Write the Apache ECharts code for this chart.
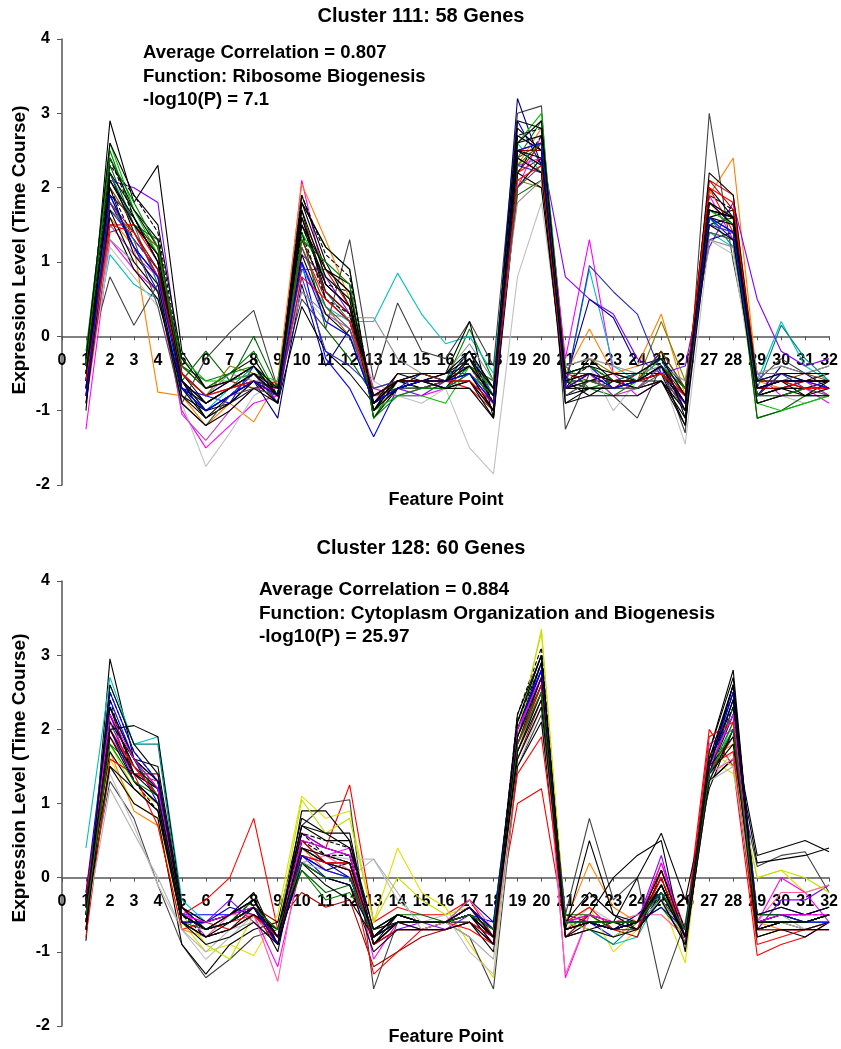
<!DOCTYPE html>
<html>
<head>
<meta charset="utf-8">
<script src="https://cdn.jsdelivr.net/npm/echarts@6/dist/echarts.min.js"></script>
<style>
html, body { margin: 0; padding: 0; background: #fff; }
#main { width: 841px; height: 1049px; }
</style>
</head>
<body>
<div id="main"></div>
<script>
// feature points on the x axis (time course)
var featurePoints = [1,2,3,4,5,6,7,8,9,10,11,12,13,14,15,16,17,18,19,20,21,22,23,24,25,26,27,28,29,30,31,32];
var yTicks = [-2, -1, 0, 1, 2, 3, 4];

// Cluster 111: 58 genes (profiles, a subset of the genes)
var cluster111 = [
  [-0.5,2.2,1.4,0.8,-0.5,-0.9,-0.7,-0.5,-0.8,1.6,0.6,0.3,-0.9,-0.6,-0.6,-0.7,-0.3,-0.8,2.5,2.6,-0.6,-0.5,-0.6,-0.7,-0.4,-0.9,1.8,1.5,-0.7,-0.6,-0.7,-0.6],
  [-0.8,1.5,1.5,1.0,-0.6,-1.0,-0.8,-0.6,-0.7,1.2,0.5,0.2,-0.8,-0.7,-0.6,-0.5,-0.5,-0.9,2.2,2.4,-0.7,-0.6,-0.5,-0.6,-0.5,-0.8,2.0,1.4,-0.8,-0.7,-0.6,-0.7],
  [-0.3,1.8,1.2,0.6,-0.7,-0.8,-0.9,-0.4,-0.9,1.0,-0.3,-0.7,-1.35,-0.7,-0.5,-0.6,-0.2,-0.7,2.9,2.3,-0.5,-0.4,-0.7,-0.5,-0.3,-1.0,1.6,1.3,-0.6,-0.5,-0.6,-0.5],
  [-0.2,2.5,1.6,1.1,-0.4,-0.6,-0.5,-0.2,-0.8,1.8,1.2,0.9,-1.1,-0.6,-0.7,-0.6,0.1,-0.6,2.4,2.9,-0.4,-0.7,-0.8,-0.6,-0.2,-0.7,1.5,1.6,-1.1,-1.0,-0.9,-0.8],
  [-1.25,1.3,0.9,0.6,-1.0,-1.5,-1.2,-0.9,-0.8,2.1,0.7,0.4,-0.7,-0.8,-0.8,-0.7,-0.6,-1.0,2.0,2.7,-0.3,1.3,-0.5,-0.8,-0.6,-0.9,1.9,1.3,-0.5,-0.8,-0.7,-0.9],
  [-0.6,1.1,0.7,0.5,-0.6,-1.0,-0.7,-0.6,-0.7,0.9,0.4,0.2,0.2,0.85,0.3,-0.1,0.0,-0.5,2.6,2.2,-0.7,0.9,-0.4,-0.6,-0.3,-0.8,1.4,1.2,-0.6,0.2,-0.4,-0.6],
  [-0.5,1.6,1.2,-0.75,-0.8,-1.2,-0.9,-1.15,-0.6,2.05,1.3,0.5,-1.0,-0.6,-0.7,-0.6,-0.4,-0.7,2.3,2.8,-0.5,0.1,-0.5,-0.4,0.3,-0.8,1.9,2.4,-0.6,-0.7,-0.6,-0.5],
  [-0.4,0.8,0.15,0.7,-0.9,-0.3,0.05,0.35,-0.7,0.5,0.1,1.3,-0.6,0.45,-0.2,-0.3,0.2,-0.4,3.0,3.1,-1.25,-0.5,-0.8,-1.1,-0.4,-1.3,3.0,1.0,-0.6,-0.3,-0.5,-0.4],
  [-0.7,2.1,2.0,1.8,-0.5,-0.8,-0.6,-0.5,-0.9,1.1,0.8,0.3,-0.9,-0.7,-0.8,-0.6,-0.3,-0.8,2.7,2.5,0.8,0.5,0.3,-0.3,-0.5,-0.4,1.2,1.8,0.5,-0.2,-0.4,-0.3],
  [-0.9,1.2,0.8,0.4,-0.9,-1.75,-1.3,-0.8,-0.6,0.6,0.2,0.0,-0.6,-0.8,-0.9,-0.7,-1.5,-1.85,0.8,1.8,-0.6,-0.4,-1.0,-0.6,-0.5,-1.45,1.3,1.1,-0.9,-0.8,-0.9,-0.8],
  [-0.6,2.9,1.8,2.3,-0.2,-0.7,-0.5,-0.3,-0.8,1.9,1.0,0.4,-1.0,-0.5,-0.5,-0.5,0.2,-1.1,2.0,2.4,-0.7,-0.3,-0.6,-0.6,-0.2,-1.1,1.6,1.7,-0.8,-0.5,-0.6,-0.6],
  [-0.3,2.3,1.5,1.3,-0.6,-0.2,-0.6,0.0,-0.7,1.4,0.1,-0.3,-0.8,-0.7,-0.6,-0.7,-0.4,-0.6,1.9,2.1,-0.6,-0.7,-0.6,-0.7,-0.4,-0.7,1.7,1.5,-1.1,-1.0,-0.8,-0.8],
  [-0.7,2.0,1.3,0.9,-0.7,-1.0,-0.8,-0.5,-0.8,1.5,0.7,0.6,-1.0,-0.6,-0.7,-0.7,-0.6,-0.9,2.4,2.2,-0.8,-0.6,-0.6,-0.6,-0.5,-1.0,1.5,1.6,-0.7,-0.7,-0.7,-0.7],
  [-0.9,1.4,1.5,1.1,-0.4,-0.7,-0.6,-0.7,-0.6,0.9,0.9,0.4,-0.9,-0.5,-0.5,-0.6,-0.7,-1.0,2.2,2.6,-0.5,-0.6,-0.7,-0.5,-0.5,-0.8,2.1,1.9,-0.6,-0.6,-0.6,-0.8],
  [-0.5,1.9,1.6,1.0,-0.6,-1.0,-0.8,-0.6,-1.1,0.7,-0.4,0.1,-0.8,-0.6,-0.6,-0.5,-0.4,-0.8,3.2,2.3,-0.6,0.5,0.25,-0.4,-0.3,-0.7,1.3,1.4,-0.8,-0.4,-0.5,-0.7],
  [-1.0,2.4,1.7,1.2,-0.8,-1.1,-0.9,-0.6,-0.7,1.7,0.5,0.2,-0.8,-0.6,-0.5,-0.6,-0.5,-1.0,2.6,2.7,-0.6,-0.8,-0.6,-0.5,-0.5,-0.9,1.8,1.5,-0.7,-0.6,-0.8,-0.6],
  [-0.5,1.7,1.4,0.9,-0.5,-0.8,-0.4,-0.5,-0.9,1.2,0.4,0.0,-0.7,-0.6,-0.6,-0.6,-0.3,-0.7,2.1,2.0,-0.4,-0.3,-0.5,-0.6,0.2,-0.6,1.4,1.3,-0.5,-0.5,-0.5,-0.5],
  [-0.4,2.2,1.5,0.7,-0.6,-0.9,-0.7,-0.4,-0.8,1.3,0.6,0.2,-0.9,-0.6,-0.7,-0.6,-0.2,-0.8,2.5,2.3,-0.5,-0.4,-0.6,-0.5,-0.3,-0.8,1.6,1.2,-0.7,0.15,-0.3,-0.6],
  [-0.6,1.9,1.2,0.8,-0.6,-1.1,-0.9,-0.7,-0.7,1.8,0.9,0.7,-1.1,-0.7,-0.6,-0.6,-0.6,-1.1,2.8,2.5,-0.9,-0.7,-0.7,-0.6,-0.5,-1.2,2.0,1.6,-0.9,-0.8,-0.7,-0.7],
  [-0.8,1.5,1.1,0.8,-1.05,-1.4,-1.0,-0.7,-0.7,1.0,0.3,0.1,-0.8,-0.8,-0.7,-0.6,-0.5,-0.9,2.3,2.4,-0.7,-0.5,-0.8,-0.7,-0.4,-0.9,1.5,1.4,-0.8,-0.7,-0.6,-0.8],
  [-0.3,2.6,1.7,1.1,-0.3,-0.6,-0.6,-0.5,-0.6,1.4,0.8,0.5,-1.0,-0.8,-0.8,-0.9,-0.4,-0.7,2.6,3.0,-0.6,-0.6,-0.7,-0.6,-0.3,-0.8,1.7,1.5,-0.9,-1.0,-0.9,-0.8],
  [-0.5,1.6,0.9,0.5,-0.7,-0.9,-0.7,-0.6,-0.9,0.4,-0.2,-0.5,-0.9,-0.5,-0.6,-0.5,-0.3,-0.7,2.2,2.0,-0.7,-0.6,-0.5,-0.6,-0.5,-0.8,1.6,1.4,-0.6,-0.6,-0.6,-0.6],
  [-0.7,2.0,1.5,1.2,-0.5,-0.8,-0.7,-0.5,-0.7,1.6,0.9,0.6,-0.8,-0.6,-0.5,-0.6,-0.4,-0.8,2.4,2.6,-0.5,-0.5,-0.6,-0.6,-0.2,-0.7,1.8,1.6,-0.6,-0.6,-0.5,-0.6],
  [-0.4,2.3,1.9,1.4,-0.4,-0.7,-0.6,-0.4,-0.8,1.9,1.1,0.8,-0.9,-0.6,-0.6,-0.6,-0.2,-0.9,2.7,2.8,-0.6,-0.4,-0.6,-0.7,-0.6,-1.0,1.9,1.7,-0.7,-0.6,-0.6,-0.5],
  [-0.6,1.7,1.3,0.9,-0.7,-1.0,-0.8,-0.5,-0.9,0.8,-0.2,-0.4,-0.7,-0.6,-0.6,-0.7,-0.5,-0.9,2.3,2.2,-0.7,0.95,0.6,0.3,-0.5,-0.9,1.5,1.4,-0.8,-0.5,-0.7,-0.7],
  [-0.7,1.8,1.4,0.9,-0.6,-0.9,-0.7,-0.5,-0.8,1.3,0.6,0.3,-0.9,-0.7,-0.7,-0.6,-0.6,-1.0,2.5,2.5,-0.6,-0.5,-0.7,-0.6,-0.4,-0.8,2.1,1.7,-0.7,-0.7,-0.6,-0.6],
  [-0.5,1.3,1.0,0.6,-0.5,-0.8,-0.5,-0.6,-0.6,0.6,0.3,0.25,0.25,-0.3,-0.5,-0.5,-0.1,-0.6,1.8,2.1,-0.4,-0.3,-0.4,-0.5,-0.4,-0.6,1.3,1.2,-0.5,-0.4,-0.5,-0.4],
  [-0.8,2.1,1.6,1.0,-0.7,-1.1,-0.8,-0.6,-0.8,1.5,0.7,0.4,-1.0,-0.7,-0.7,-0.7,-0.6,-1.0,2.5,2.3,-0.8,-0.7,-0.7,-0.7,-0.6,-1.0,1.7,1.6,-0.8,-0.7,-0.7,-0.7],
  [-0.6,2.0,1.1,0.7,-0.8,-1.0,-0.9,-0.6,-0.9,1.7,0.8,0.5,-1.0,-0.7,-0.6,-0.6,-0.5,-1.0,2.6,2.9,-0.7,-0.7,-0.7,-0.6,-0.6,-1.1,1.6,1.5,-0.8,-0.7,-0.8,-0.7],
  [-0.5,2.4,1.6,1.0,-0.6,-0.9,-0.7,-0.5,-0.7,1.4,0.5,0.3,-0.9,-0.6,-0.7,-0.6,-0.4,-0.9,2.2,2.7,-0.6,-0.6,-0.6,-0.6,-0.5,-0.9,1.7,1.6,-0.7,-0.6,-0.6,-0.6],
  [-0.4,1.8,1.3,0.4,-0.9,-1.2,-0.8,-0.7,-0.8,1.2,0.4,0.1,-0.9,-0.7,-0.7,-0.6,-0.4,-0.9,2.0,2.3,-0.8,-0.6,-0.7,-0.7,-0.5,-1.0,1.4,1.3,-0.8,-0.8,-0.7,-0.8],
  [-0.7,2.2,1.7,1.3,-0.5,-0.8,-0.6,-0.4,-0.8,1.8,1.2,0.9,-1.0,-0.6,-0.6,-0.6,-0.3,-0.9,2.7,2.5,-0.7,-0.5,-0.6,-0.6,-0.4,-1.0,2.2,1.9,-0.7,-0.6,-0.6,-0.6],
  [-0.4,2.4,1.8,1.2,-0.4,-0.7,-0.5,-0.4,-0.7,1.3,1.0,0.7,-1.1,-0.8,-0.7,-0.7,-0.5,-0.8,2.3,2.6,-0.5,-0.4,-0.6,-0.6,-0.4,-0.7,1.6,1.4,-0.8,-0.8,-0.7,-0.7],
  [-0.9,1.7,1.0,0.6,-0.9,-1.2,-1.0,-0.7,-0.9,1.1,0.3,0.0,-0.9,-0.7,-0.6,-0.7,-0.7,-1.1,2.4,2.2,-0.9,-0.8,-0.8,-0.8,-0.6,-1.2,1.5,1.3,-0.9,-0.8,-0.8,-0.8],
  [-0.6,1.5,1.4,0.8,-0.5,-0.8,-0.7,-0.6,-0.8,0.8,0.5,0.2,-0.8,-0.6,-0.6,-0.6,-0.6,-0.9,2.1,2.3,-0.7,-0.5,-0.6,-0.6,-0.5,-0.8,2.0,1.8,-0.7,-0.6,-0.7,-0.7],
  [-0.3,2.6,1.9,1.5,-0.3,-0.7,-0.6,-0.4,-0.7,1.6,0.7,0.4,-0.8,-0.6,-0.5,-0.5,-0.2,-0.7,2.9,2.8,-0.5,-0.4,-0.5,-0.5,-0.3,-0.8,1.7,1.6,-0.6,-0.5,-0.5,-0.5],
  [-0.8,1.9,1.2,0.8,-0.7,-1.0,-0.8,-0.6,-0.8,1.0,0.2,0.0,-0.9,-0.7,-0.6,-0.6,-0.5,-0.9,2.5,2.6,-0.7,-0.5,-0.7,-0.6,-0.4,-0.9,1.6,1.4,-0.7,-0.6,-0.6,-0.7],
  [-0.5,2.1,1.5,1.1,-0.6,-0.9,-0.7,-0.5,-0.8,1.5,0.9,0.6,-0.9,-0.6,-0.6,-0.6,-0.4,-0.8,2.5,2.4,-0.6,-0.5,-0.6,-0.6,-0.4,-0.9,1.8,1.6,-0.7,-0.6,-0.6,-0.6]
];

// Cluster 128: 60 genes (profiles, a subset of the genes)
var cluster128 = [
  [-0.3,2.2,1.5,1.1,-0.4,-0.7,-0.6,-0.4,-0.9,0.4,0.2,0.1,-0.8,-0.5,-0.6,-0.6,-0.4,-0.7,1.8,2.7,-0.7,-0.6,-0.7,-0.6,-0.1,-0.8,1.4,2.2,-0.6,-0.5,-0.6,-0.5],
  [-0.6,1.9,1.4,1.3,-0.5,-0.3,0.0,0.8,-0.7,0.6,0.4,1.25,-0.6,-0.4,-0.5,-0.5,-0.3,-0.8,1.0,1.2,-0.7,-0.5,-0.6,-0.7,0.2,-0.7,2.0,1.5,-1.05,-0.9,-0.8,-0.6],
  [-0.2,2.4,1.6,1.0,-0.5,-0.5,-0.5,-0.3,-0.8,0.3,0.0,-0.1,-0.7,-0.5,-0.6,-0.6,-0.5,-0.6,1.9,2.9,-0.6,-0.6,-0.8,-0.6,-0.2,-0.8,1.5,2.6,-0.5,-0.4,-0.5,-0.4],
  [-0.5,1.6,1.0,0.8,-0.6,-1.0,-0.9,-1.05,-0.5,1.1,0.8,0.9,-0.6,0.4,-0.2,-0.4,-0.9,-1.35,2.0,3.3,-0.6,-0.4,-1.0,-0.7,-0.3,-1.15,1.6,1.4,0.0,0.1,-0.2,-0.1],
  [-0.85,2.95,1.6,1.3,-0.6,-0.8,-0.7,-0.4,-1.0,0.5,0.2,0.2,-0.9,-0.6,-0.6,-0.6,-0.6,-0.8,2.1,3.0,-0.8,-0.6,-0.6,-0.6,0.0,-0.9,1.7,2.8,-0.7,-0.6,-0.7,-0.6],
  [0.4,2.7,1.8,1.9,-0.3,-0.6,-0.5,-0.4,-0.8,0.3,0.1,0.0,-0.8,-0.5,-0.6,-0.6,-0.4,-0.7,1.7,2.5,-0.6,-0.7,-0.9,-0.8,-0.2,-0.7,1.3,2.1,-0.5,-0.5,-0.6,-0.5],
  [-0.7,2.2,1.3,1.0,-0.4,-0.8,-0.7,-0.5,-1.2,0.2,0.3,0.4,-1.1,-0.6,-0.7,-0.6,-0.5,-0.9,1.9,2.8,-1.35,-0.5,-0.6,-0.6,-0.3,-0.8,1.8,2.0,-0.6,0.0,-0.2,-0.6],
  [-0.4,1.3,0.8,-0.1,-0.9,-1.35,-1.1,-0.8,-0.7,0.7,1.0,1.05,-1.5,-0.6,-0.6,-0.6,-0.8,-1.5,1.5,2.2,-0.5,0.8,-0.3,0.0,-1.5,-0.6,1.3,1.6,0.15,0.3,0.35,-0.2],
  [-0.3,1.8,1.5,1.2,-0.5,-0.7,-0.6,-0.4,-0.7,0.1,-0.3,-0.2,-0.7,-0.5,-0.6,-0.6,-0.4,-0.7,1.8,2.6,-0.6,-0.6,-0.7,-0.6,-0.4,-0.8,1.4,2.1,-0.6,-0.5,-0.6,-0.5],
  [-0.5,1.4,0.7,-0.1,-0.7,-1.1,-0.8,-0.5,-0.8,0.2,0.3,0.25,0.25,-0.3,-0.6,-0.5,-1.0,-1.3,1.5,2.3,-0.7,-0.4,-0.6,-0.5,-0.2,-0.7,1.3,1.7,-0.7,-0.6,-0.7,-0.7],
  [-0.6,2.5,1.7,1.3,-0.5,-0.7,-0.6,-0.3,-0.9,0.5,0.3,0.2,-0.8,-0.5,-0.6,-0.6,-0.4,-0.8,2.2,3.1,-0.7,-0.6,-0.7,-0.6,0.0,-0.8,1.6,2.5,-0.6,-0.6,-0.6,-0.5],
  [-0.7,2.1,1.4,1.2,-0.5,-0.6,-0.3,-0.6,-0.9,0.6,0.4,0.3,-0.9,-0.7,-0.6,-0.7,-0.5,-0.9,2.0,2.7,-0.7,-0.6,-0.7,-0.6,0.3,-0.9,1.4,2.3,-0.7,-0.3,-0.3,-0.1],
  [-0.4,1.7,0.9,0.7,-0.7,-0.8,-0.7,-0.5,-0.8,0.4,0.1,0.0,-0.7,-0.6,-0.6,-0.6,-0.5,-0.8,1.7,2.6,-0.6,0.2,-0.4,-0.6,-0.1,-0.8,1.6,1.8,-0.6,-0.7,-0.7,-0.6],
  [-0.5,2.0,2.05,1.9,-0.4,-0.6,-0.5,-0.2,-0.9,0.9,0.9,0.5,-0.9,-0.7,-0.7,-0.6,-0.5,-0.9,1.8,2.5,-0.7,-0.6,-0.6,0.0,0.6,-0.3,1.2,2.0,0.3,0.4,0.5,0.35],
  [-0.3,2.3,1.6,1.2,-0.6,-0.6,-0.5,-0.4,-0.8,0.2,0.0,-0.1,-0.8,-0.5,-0.6,-0.6,-0.3,-0.6,2.0,2.8,-0.5,-0.6,-0.7,-0.5,-0.2,-0.7,1.5,2.6,-0.5,-0.5,-0.5,-0.4],
  [-0.2,2.0,1.4,1.4,-0.4,-0.7,-0.6,-0.4,-0.6,-0.2,-0.4,-0.3,-1.2,-1.0,-0.8,-0.7,-0.6,-0.9,1.6,2.4,-0.8,-0.5,-0.7,-0.8,0.1,-0.7,1.4,1.9,-0.7,-0.6,-0.6,-0.5],
  [-0.5,2.6,1.8,1.8,-0.5,-0.7,-0.6,-0.4,-0.8,0.4,0.2,0.2,-0.8,-0.6,-0.6,-0.6,-0.5,-0.7,2.1,2.9,-0.6,-0.7,-0.9,-0.6,-0.1,-0.8,1.5,2.4,-0.6,-0.6,-0.6,-0.6],
  [-0.6,1.5,1.0,0.8,-0.9,-1.3,-0.9,-0.7,-0.6,0.8,0.6,0.4,-0.7,-0.6,-0.7,-0.7,-0.6,-1.0,1.5,2.1,-0.8,-0.7,-0.6,-0.7,-0.3,-0.9,1.3,1.6,-0.8,-0.7,-0.8,-0.6],
  [-0.4,1.8,1.2,1.0,-0.5,-0.9,-1.1,-0.5,-0.7,1.05,0.6,0.8,-0.6,0.0,-0.3,-0.5,-0.4,-0.8,1.9,3.35,-0.6,-0.7,-0.8,-0.6,-0.1,-0.9,1.7,1.5,0.0,0.1,0.0,-0.2],
  [-0.5,2.2,1.5,1.2,-0.5,-0.7,-0.6,-0.4,-0.9,0.3,0.1,0.2,-0.9,-0.5,-0.6,-0.6,-0.5,-0.7,2.0,2.8,-0.7,-0.6,-0.7,-0.6,-0.1,-0.8,1.5,2.6,-0.7,-0.6,-0.6,-0.5],
  [-0.3,1.9,1.5,1.1,-0.6,-0.8,-0.5,-0.5,-1.4,0.4,0.3,0.1,-0.8,-0.6,-0.6,-0.6,-0.3,-0.7,1.8,2.5,-1.3,-0.5,-0.6,-0.5,-0.5,-0.8,1.4,1.6,-0.6,-0.2,-0.2,-0.1],
  [-0.6,2.4,1.3,0.9,-0.5,-0.8,-0.7,-0.5,-0.7,0.6,0.3,0.3,-0.8,-0.5,-0.6,-0.6,-0.4,-0.8,2.1,2.9,-0.7,-0.6,-0.6,-0.7,-0.2,-0.8,1.6,2.2,-0.6,-0.6,-0.6,-0.5],
  [-0.4,2.1,1.6,1.1,-0.6,-0.7,-0.6,-0.3,-0.8,0.1,-0.2,-0.1,-0.7,-0.5,-0.5,-0.6,-0.4,-0.7,1.9,2.6,-0.5,-0.5,-0.7,-0.6,-0.3,-0.7,1.4,2.3,-0.5,-0.5,-0.6,-0.5],
  [-0.3,1.7,1.2,0.9,-0.6,-0.8,-0.6,-0.4,-0.9,0.2,-0.1,-0.3,-0.8,-0.6,-0.6,-0.6,-0.5,-0.8,1.7,2.4,-0.6,-0.5,0.0,0.3,0.5,-1.0,1.5,1.9,0.2,0.25,0.3,0.4],
  [-0.8,1.6,1.4,0.7,-0.7,-0.6,-0.7,-0.5,-0.9,0.5,0.2,0.1,-1.3,-1.0,-0.7,-0.6,-0.7,-0.9,1.4,1.9,-0.6,-0.4,-0.7,-0.6,0.1,-0.8,1.5,1.7,-0.9,-0.8,-0.7,-0.6],
  [-0.6,1.2,0.6,0.0,-0.7,-1.0,-0.7,-0.6,-0.7,0.2,0.1,0.0,0.25,-0.2,-0.7,-0.6,-0.8,-1.1,1.6,2.3,-0.6,-0.5,-0.6,-0.6,-0.3,-0.8,1.3,1.5,-0.6,-0.5,-0.7,-0.6],
  [-0.7,2.3,1.6,1.5,-0.4,-0.7,-0.5,-0.3,-0.9,0.5,0.4,0.3,-0.9,-0.6,-0.6,-0.6,-0.5,-0.8,2.2,3.0,-0.7,0.5,-0.5,-0.7,-0.1,-0.8,1.7,2.7,-0.7,-0.7,-0.7,-0.6],
  [-0.5,2.0,1.3,1.0,-0.6,-0.6,-0.4,-0.5,-0.8,0.3,0.2,0.0,-0.8,-0.6,-0.6,-0.6,-0.4,-0.7,1.8,2.6,-0.6,-0.6,-0.7,-0.6,-0.4,-0.7,1.4,2.4,-0.6,-0.5,-0.6,-0.5],
  [-0.5,2.3,1.4,1.2,-0.5,-0.7,-0.6,-0.4,-0.9,0.4,0.2,0.1,-0.9,-0.6,-0.6,-0.6,-0.5,-0.8,2.0,2.9,-0.7,-0.6,-0.7,-0.6,-0.1,-0.8,1.5,2.5,-0.7,-0.6,-0.6,-0.5],
  [-0.4,2.1,1.6,1.3,-0.4,-0.6,-0.5,-0.3,-0.8,0.6,0.5,0.4,-0.8,-0.5,-0.6,-0.6,-0.4,-0.7,1.9,2.7,-0.6,-0.5,-0.6,-0.6,0.1,-0.7,1.6,2.3,-0.6,-0.5,-0.5,-0.5],
  [-0.6,2.0,1.5,1.1,-0.5,-0.7,-0.6,-0.5,-0.8,0.3,0.2,0.2,-0.9,-0.7,-0.7,-0.7,-0.6,-0.8,1.8,2.6,-0.7,-0.6,-0.7,-0.7,0.0,-0.8,1.9,2.1,-0.7,-0.7,-0.7,-0.7],
  [-0.3,1.5,1.2,0.9,-0.6,-0.8,-0.7,-0.5,-0.7,0.7,0.5,0.5,-0.7,-0.5,-0.6,-0.6,-0.5,-0.8,1.6,2.3,-0.6,-0.2,-0.5,-0.6,-0.2,-0.8,1.4,1.8,-0.5,-0.4,-0.5,-0.4],
  [-0.5,2.5,1.7,1.3,-0.5,-0.7,-0.6,-0.4,-0.9,0.3,0.1,0.0,-0.8,-0.6,-0.6,-0.6,-0.4,-0.7,2.0,2.8,-0.6,-0.6,-0.7,-0.6,-0.2,-0.7,1.5,2.5,-0.6,-0.6,-0.6,-0.6],
  [-0.7,1.9,1.3,1.0,-0.6,-0.9,-0.8,-0.6,-0.9,0.2,0.0,-0.1,-1.0,-0.7,-0.7,-0.7,-0.6,-0.9,1.7,2.5,-0.8,-0.7,-0.8,-0.7,-0.3,-0.9,1.3,2.0,-0.8,-0.7,-0.7,-0.7],
  [-0.4,2.2,1.6,1.2,-0.5,-0.6,-0.5,-0.4,-0.8,0.5,0.4,0.3,-0.8,-0.6,-0.6,-0.6,-0.4,-0.8,2.0,2.7,-0.6,-0.5,-0.6,-0.6,0.2,-0.8,1.5,2.2,-0.6,-0.5,-0.5,-0.5],
  [-0.6,2.6,1.8,1.4,-0.5,-0.7,-0.5,-0.3,-0.8,0.7,0.6,0.6,-0.9,-0.6,-0.6,-0.6,-0.5,-0.8,2.1,3.0,-0.7,-0.6,-0.6,-0.6,0.1,-0.8,1.6,2.6,-0.7,-0.6,-0.6,-0.5],
  [-0.5,1.8,1.3,1.1,-0.5,-0.7,-0.6,-0.4,-0.7,0.2,0.0,0.0,-0.8,-0.6,-0.6,-0.6,-0.5,-0.7,1.8,2.5,-0.6,-0.6,-0.6,-0.6,-0.2,-0.7,1.4,2.0,-0.6,-0.6,-0.6,-0.5],
  [-0.4,2.0,1.4,1.1,-0.5,-0.7,-0.6,-0.4,-0.8,0.4,0.3,0.2,-0.8,-0.6,-0.6,-0.6,-0.4,-0.8,1.9,2.7,-0.7,-0.6,-0.7,-0.6,-0.1,-0.8,1.5,2.4,-0.6,-0.6,-0.6,-0.5]
];

// line colours, one per gene profile (Excel-like palette, mostly black)
var colors111 = ['#000000','#ff0000','#0000ff','#008000','#ff00ff','#00bfbf','#ff8000','#404040','#8000ff','#c0c0c0',
  '#000000','#006400','#000000','#e00000','#000080','#000000','#808000','#008080','#000000','#c040c0',
  '#00c000','#000000','#804000','#000000','#3030c0','#a00000','#909090','#000000','#000000','#000000',
  '#505050','#000000','#008000','#000000','#ff0000','#000000','#0000ff','#000000'];
var colors128 = ['#000000','#ff0000','#0000ff','#e0e000','#000000','#00bfbf','#ff00ff','#404040','#008000','#c0c0c0',
  '#000000','#8000ff','#ff8000','#000000','#000080','#a00000','#008080','#000000','#c0e000','#000000',
  '#ff60a0','#000000','#006400','#000000','#ff0000','#b0b0b0','#000000','#0000c0','#000000','#000000',
  '#ff0000','#000000','#0000ff','#000000','#ff00ff','#000000','#008000','#000000'];
var dashed111 = [12, 23, 29];
var dashed128 = [10, 21, 29];

var chart = echarts.init(document.getElementById('main'));
var FONT = '"Liberation Sans", Arial, sans-serif';
var GRIDS = [
    { left: 62, top: 39, width: 768, height: 446 },
    { left: 62, top: 581, width: 768, height: 445 }
];

function makeSeries(rows, colors, dashed, idx) {
    return rows.map(function (row, i) {
        return {
            type: 'line',
            xAxisIndex: idx,
            yAxisIndex: idx,
            data: row.map(function (v, k) { return [featurePoints[k], v]; }),
            symbol: 'none',
            silent: true,
            lineStyle: {
                color: colors[i % colors.length],
                width: 1.1,
                type: dashed.indexOf(i) >= 0 ? 'dashed' : 'solid'
            }
        };
    });
}

// x axis sits on y = 0: shift it up from the grid bottom
function xAxisCfg(idx) {
    var yMin = yTicks[0], yMax = yTicks[yTicks.length - 1];
    var zeroUp = GRIDS[idx].height * (0 - yMin) / (yMax - yMin);
    return {
        type: 'value',
        gridIndex: idx,
        position: 'bottom',
        offset: -zeroUp,
        min: 0,
        max: 32,
        interval: 1,
        axisLine: { onZero: false, lineStyle: { color: '#555', width: 1.5 } },
        axisTick: { show: true, length: 4, lineStyle: { color: '#555' } },
        axisLabel: { color: '#000', fontWeight: 'bold', fontSize: 16, fontFamily: FONT, margin: 16 },
        splitLine: { show: false }
    };
}

function yAxisCfg(idx) {
    return {
        type: 'value',
        gridIndex: idx,
        min: yTicks[0],
        max: yTicks[yTicks.length - 1],
        interval: 1,
        axisLine: { show: true, onZero: false, lineStyle: { color: '#555', width: 1.5 } },
        axisTick: { show: true, length: 5, lineStyle: { color: '#555' } },
        axisLabel: { color: '#000', fontWeight: 'bold', fontSize: 16, fontFamily: FONT, margin: 12 },
        splitLine: { show: false }
    };
}

function txt(str, x, y, size, align, rot) {
    return {
        type: 'text',
        x: x,
        y: y,
        rotation: rot || 0,
        silent: true,
        style: {
            text: str,
            fill: '#000',
            font: 'bold ' + size + 'px ' + FONT,
            textAlign: align, align: align,
            textVerticalAlign: 'middle', verticalAlign: 'middle'
        }
    };
}

chart.setOption({
    animation: false,
    backgroundColor: '#fff',
    grid: GRIDS,
    xAxis: [xAxisCfg(0), xAxisCfg(1)],
    yAxis: [yAxisCfg(0), yAxisCfg(1)],
    series: makeSeries(cluster111, colors111, dashed111, 0).concat(makeSeries(cluster128, colors128, dashed128, 1)),
    graphic: [
        txt('Cluster 111: 58 Genes', 421, 16, 20, 'center'),
        txt('Average Correlation = 0.807', 143, 53, 18.5, 'left'),
        txt('Function: Ribosome Biogenesis', 143, 77, 18.5, 'left'),
        txt('-log10(P) = 7.1', 143, 100, 18.5, 'left'),
        txt('Feature Point', 446, 500, 18, 'center'),
        txt('Expression Level (Time Course)', 20, 250, 19, 'center', Math.PI / 2),

        txt('Cluster 128: 60 Genes', 421, 548, 20, 'center'),
        txt('Average Correlation = 0.884', 259, 590, 19, 'left'),
        txt('Function: Cytoplasm Organization and Biogenesis', 259, 614, 19, 'left'),
        txt('-log10(P) = 25.97', 259, 637, 19, 'left'),
        txt('Feature Point', 446, 1037, 18, 'center'),
        txt('Expression Level (Time Course)', 20, 778, 19, 'center', Math.PI / 2)
    ]
});
</script>
</body>
</html>
